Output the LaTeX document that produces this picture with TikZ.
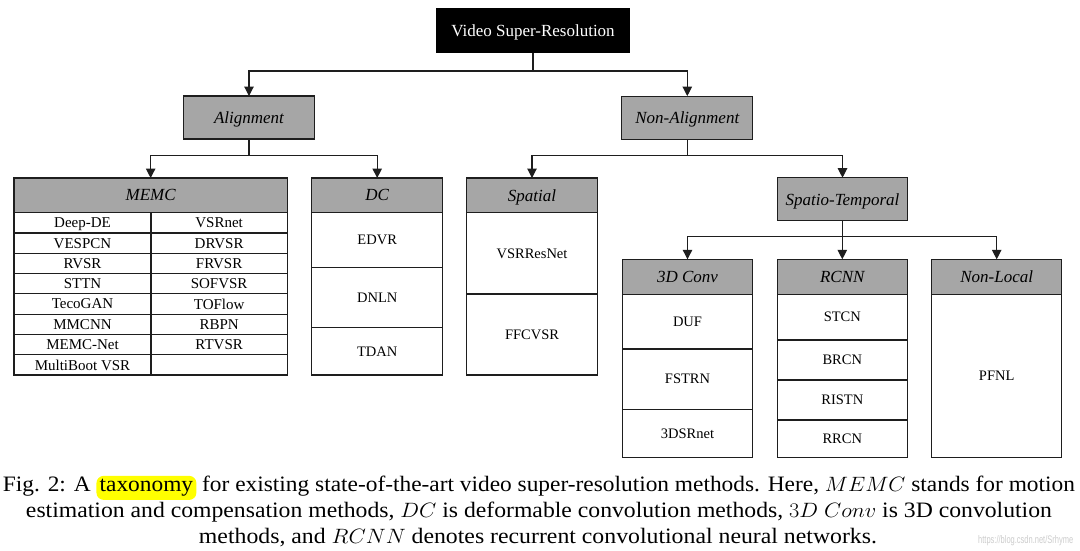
\documentclass[tikz,border=0pt]{standalone}
\usepackage{fontspec}
\setmainfont{Liberation Serif}
\newfontfamily\wmfont{Liberation Sans}
\usetikzlibrary{arrows.meta}
\definecolor{hdrgray}{RGB}{166,166,166}
\definecolor{lc}{RGB}{30,30,30}
\definecolor{hlyellow}{RGB}{255,255,0}
\definecolor{wmgray}{RGB}{205,205,205}
\tikzset{
  cell/.style={draw=lc, line width=1.1pt, fill=white, inner sep=0pt, outer sep=0pt, text depth=0pt, font=\fontsize{14.5pt}{17pt}\selectfont},
  memccell/.style={cell, font=\fontsize{15pt}{17pt}\selectfont},
  hdr/.style={cell, fill=hdrgray, font=\fontsize{17pt}{20pt}\selectfont\itshape},
  rootbox/.style={cell, fill=black, draw=black, text=white, font=\fontsize{17pt}{20pt}\selectfont},
  arr/.style={draw=lc, line width=1.1pt, -{Triangle[length=9.5pt,width=9.5pt]}},
  capline/.style={inner sep=0pt, anchor=base, font=\fontsize{22pt}{26pt}\selectfont},
  hl/.style={fill=hlyellow, rounded corners=7pt, inner xsep=3pt, inner ysep=3.5pt},
  wm/.style={inner sep=0pt, anchor=base west, text=wmgray, font=\wmfont\fontsize{11pt}{13pt}\selectfont}
}
\begin{document}
\begin{tikzpicture}[x=1pt,y=-1pt]
\fill[white] (0,0) rectangle (1080,550);
\useasboundingbox (0,0) rectangle (1080,550);

% level 0/1
\node[rootbox, minimum width=192pt, minimum height=44pt] (vsr) at (533,30.5) {Video Super-Resolution};
\node[hdr, minimum width=131pt, minimum height=43pt] (align) at (249,117.5) {Alignment};
\node[hdr, minimum width=131pt, minimum height=43pt] (nonalign) at (687.3,117.6) {Non-Alignment};

% MEMC table
\node[hdr, anchor=north west, minimum width=273.3pt, minimum height=34.7pt] (memc) at (14,178) {MEMC};
\foreach \i/\l/\r in {1/Deep-DE/VSRnet, 2/VESPCN/DRVSR, 3/RVSR/FRVSR, 4/STTN/SOFVSR, 5/TecoGAN/TOFlow, 6/MMCNN/RBPN, 7/MEMC-Net/RTVSR, 8/MultiBoot VSR/{}}{
  \node[memccell, anchor=north west, minimum width=137pt, minimum height=20.29pt] (m\i l) at (14,{212.7+20.29*(\i-1)}) {\l};
  \node[memccell, anchor=north west, minimum width=136.3pt, minimum height=20.29pt] (m\i r) at (151,{212.7+20.29*(\i-1)}) {\r};
}

% DC table
\node[hdr, anchor=north west, minimum width=131pt, minimum height=34.7pt] (dc) at (311.7,178) {DC};
\node[cell, anchor=north west, minimum width=131pt, minimum height=55pt] (dc1) at (311.7,212.7) {EDVR};
\node[cell, anchor=north west, minimum width=131pt, minimum height=60pt] (dc2) at (311.7,267.7) {DNLN};
\node[cell, anchor=north west, minimum width=131pt, minimum height=47.3pt] (dc3) at (311.7,327.7) {TDAN};

% Spatial table
\node[hdr, anchor=north west, minimum width=130.6pt, minimum height=34.7pt] (sp) at (466.7,178) {Spatial};
\node[cell, anchor=north west, minimum width=130.6pt, minimum height=81.3pt] (sp1) at (466.7,212.7) {VSRResNet};
\node[cell, anchor=north west, minimum width=130.6pt, minimum height=81pt] (sp2) at (466.7,294) {FFCVSR};

% Spatio-Temporal
\node[hdr, minimum width=130.4pt, minimum height=43pt] (st) at (842.5,199.2) {Spatio-Temporal};

% 3D Conv
\node[hdr, anchor=north west, minimum width=130.4pt, minimum height=35pt] (c3) at (622.3,259.3) {3D Conv};
\node[cell, anchor=north west, minimum width=130.4pt, minimum height=54.7pt] (c31) at (622.3,294.3) {DUF};
\node[cell, anchor=north west, minimum width=130.4pt, minimum height=60.3pt] (c32) at (622.3,349) {FSTRN};
\node[cell, anchor=north west, minimum width=130.4pt, minimum height=48pt] (c33) at (622.3,409.3) {3DSRnet};

% RCNN
\node[hdr, anchor=north west, minimum width=130pt, minimum height=35pt] (rc) at (777.3,259.3) {RCNN};
\node[cell, anchor=north west, minimum width=130pt, minimum height=45.7pt] (rc1) at (777.3,294.3) {STCN};
\node[cell, anchor=north west, minimum width=130pt, minimum height=40pt] (rc2) at (777.3,340) {BRCN};
\node[cell, anchor=north west, minimum width=130pt, minimum height=40pt] (rc3) at (777.3,380) {RISTN};
\node[cell, anchor=north west, minimum width=130pt, minimum height=37.3pt] (rc4) at (777.3,420) {RRCN};

% Non-Local
\node[hdr, anchor=north west, minimum width=130pt, minimum height=35pt] (nl) at (931.7,259.3) {Non-Local};
\node[cell, anchor=north west, minimum width=130pt, minimum height=163pt] (nl1) at (931.7,294.3) {PFNL};

% connectors
\draw[arr] (vsr.south) -- ++(0,18.5) -| (align.north);
\draw[arr] (vsr.south) -- ++(0,18.5) -| (nonalign.north);
\draw[arr] (align.south) -- ++(0,16.5) -| (memc.north);
\draw[arr] (align.south) -- ++(0,16.5) -| (dc.north);
\draw[arr] (nonalign.south) -- ++(0,16.3) -| (sp.north);
\draw[arr] (nonalign.south) -- ++(0,16.3) -| (st.north);
\draw[arr] (st.south) -- ++(0,16) -| (c3.north);
\draw[arr] (st.south) -- ++(0,16) -| (rc.north);
\draw[arr] (st.south) -- ++(0,16) -| (nl.north);

% caption
\node[capline] (cap1) at (539,491.7) {\resizebox{1072pt}{\height}{Fig. 2: A \tikz[baseline=(hlw.base)]\node[hl](hlw){taxonomy}; for existing state-of-the-art video super-resolution methods. Here, $MEMC$ stands for motion}};
\node[capline] (cap2) at (539,517.7) {\resizebox{1026pt}{\height}{estimation and compensation methods, $DC$ is deformable convolution methods, $3D\ Conv$ is 3D convolution}};
\node[capline] (cap3) at (538,543.5) {\resizebox{678pt}{\height}{methods, and $RCNN$ denotes recurrent convolutional neural networks.}};
\node[wm] (wmk) at (978,543) {\resizebox{95pt}{\height}{https://blog.csdn.net/Srhyme}};
\end{tikzpicture}
\end{document}
